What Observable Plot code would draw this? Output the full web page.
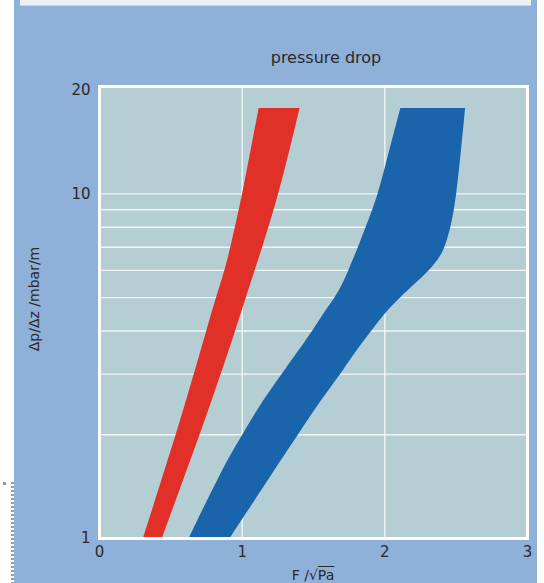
<!DOCTYPE html>
<html>
<head>
<meta charset="utf-8">
<script src="https://cdn.jsdelivr.net/npm/d3@7"></script>
<script src="https://cdn.jsdelivr.net/npm/@observablehq/plot@0.6"></script>
<style>
  body { margin: 0; }
  #page { position: relative; width: 544px; height: 583px; overflow: hidden; background: #ffffff; font-family: "DejaVu Sans", sans-serif; color: #2a2a2a; }
  .abs { position: absolute; }
</style>
</head>
<body>
<div id="page">
  <div class="abs" style="left:14px;top:0;width:523px;height:583px;background:#8fb0d8"></div>
  <div class="abs" style="left:20px;top:0;width:511px;height:5px;background:#eef2f8;border-bottom:1px solid #c5d5ea"></div>
  <div class="abs" style="left:11px;top:482px;width:3px;height:101px;background:repeating-linear-gradient(to bottom,#9a9a9a 0 2.5px,transparent 2.5px 4px)"></div>
  <div class="abs" style="left:3px;top:482px;width:3px;height:2.5px;background:#9a9a9a"></div>
  <div id="chart" class="abs" style="left:0;top:0"></div>
  <div class="abs" style="left:326px;top:50px;transform:translateX(-50%);font-size:16px;line-height:16px;white-space:nowrap">pressure drop</div>
  <div class="abs" style="left:34px;top:299px;transform:translate(-50%,-50%) rotate(-90deg);font-size:14px;line-height:14px;white-space:nowrap">Δp/Δz /mbar/m</div>
  <div class="abs" style="left:313px;top:568px;transform:translateX(-50%);font-size:14px;line-height:14px;white-space:nowrap">F /√<span style="text-decoration:overline">Pa</span></div>
</div>
<script>
// Tick values
const xTicks = [0, 1, 2, 3];
const yTicks = [1, 10, 20];
const xGrid = [1, 2];
const yGrid = [2, 3, 4, 5, 6, 7, 8, 9, 10];

// Red band (Δp/Δz vs F): lower and upper F bound at each Δp/Δz
const redY     = [1, 2.03, 2.99, 4.04, 4.97, 5.99, 7.04, 9.76, 13.4, 17.7];
const redLeft  = [0.308, 0.545, 0.664, 0.755, 0.818, 0.881, 0.923, 1.000, 1.063, 1.119];
const redRight = [0.441, 0.713, 0.853, 0.958, 1.028, 1.091, 1.147, 1.252, 1.336, 1.406];

// Blue band
const blueY     = [1, 1.58, 2.03, 2.51, 2.99, 3.51, 4.04, 4.59, 4.97, 5.46, 5.99, 6.49, 7.04, 8.10, 9.76, 13.4, 17.7];
const blueLeft  = [0.629, 0.860, 1.014, 1.147, 1.280, 1.399, 1.503, 1.587, 1.650, 1.706, 1.748, 1.783, 1.818, 1.874, 1.951, 2.035, 2.112];
const blueRight = [0.916, 1.231, 1.406, 1.552, 1.692, 1.804, 1.916, 2.021, 2.105, 2.210, 2.315, 2.385, 2.427, 2.469, 2.503, 2.538, 2.566];

const red = redY.map((y, i) => ({y, x1: redLeft[i], x2: redRight[i]}));
const blue = blueY.map((y, i) => ({y, x1: blueLeft[i], x2: blueRight[i]}));

const chart = Plot.plot({
  width: 544,
  height: 583,
  marginLeft: 99,
  marginRight: 17,
  marginTop: 86,
  marginBottom: 45,
  style: {background: "transparent", fontFamily: "DejaVu Sans, sans-serif", fontSize: "15px", color: "#2a2a2a", overflow: "visible"},
  x: {domain: [0, 3], ticks: xTicks, tickSize: 0, tickPadding: 8, label: null, tickFormat: d => String(d)},
  y: {type: "log", domain: [1, 20.5], ticks: yTicks, tickSize: 0, tickPadding: 9, label: null, tickFormat: d => String(d)},
  marks: [
    Plot.frame({fill: "#b4ced4", stroke: "none"}),
    Plot.ruleX(xGrid, {stroke: "#ffffff", strokeWidth: 1.4, strokeOpacity: 0.8}),
    Plot.ruleY(yGrid, {stroke: "#ffffff", strokeWidth: 1.4, strokeOpacity: 0.8}),
    Plot.areaX(red, {y: "y", x1: "x1", x2: "x2", fill: "#e03028", curve: "basis"}),
    Plot.areaX(blue, {y: "y", x1: "x1", x2: "x2", fill: "#1a64ac", curve: "basis"}),
    Plot.frame({stroke: "#ffffff", strokeWidth: 3})
  ]
});
document.getElementById("chart").appendChild(chart);
</script>
</body>
</html>
